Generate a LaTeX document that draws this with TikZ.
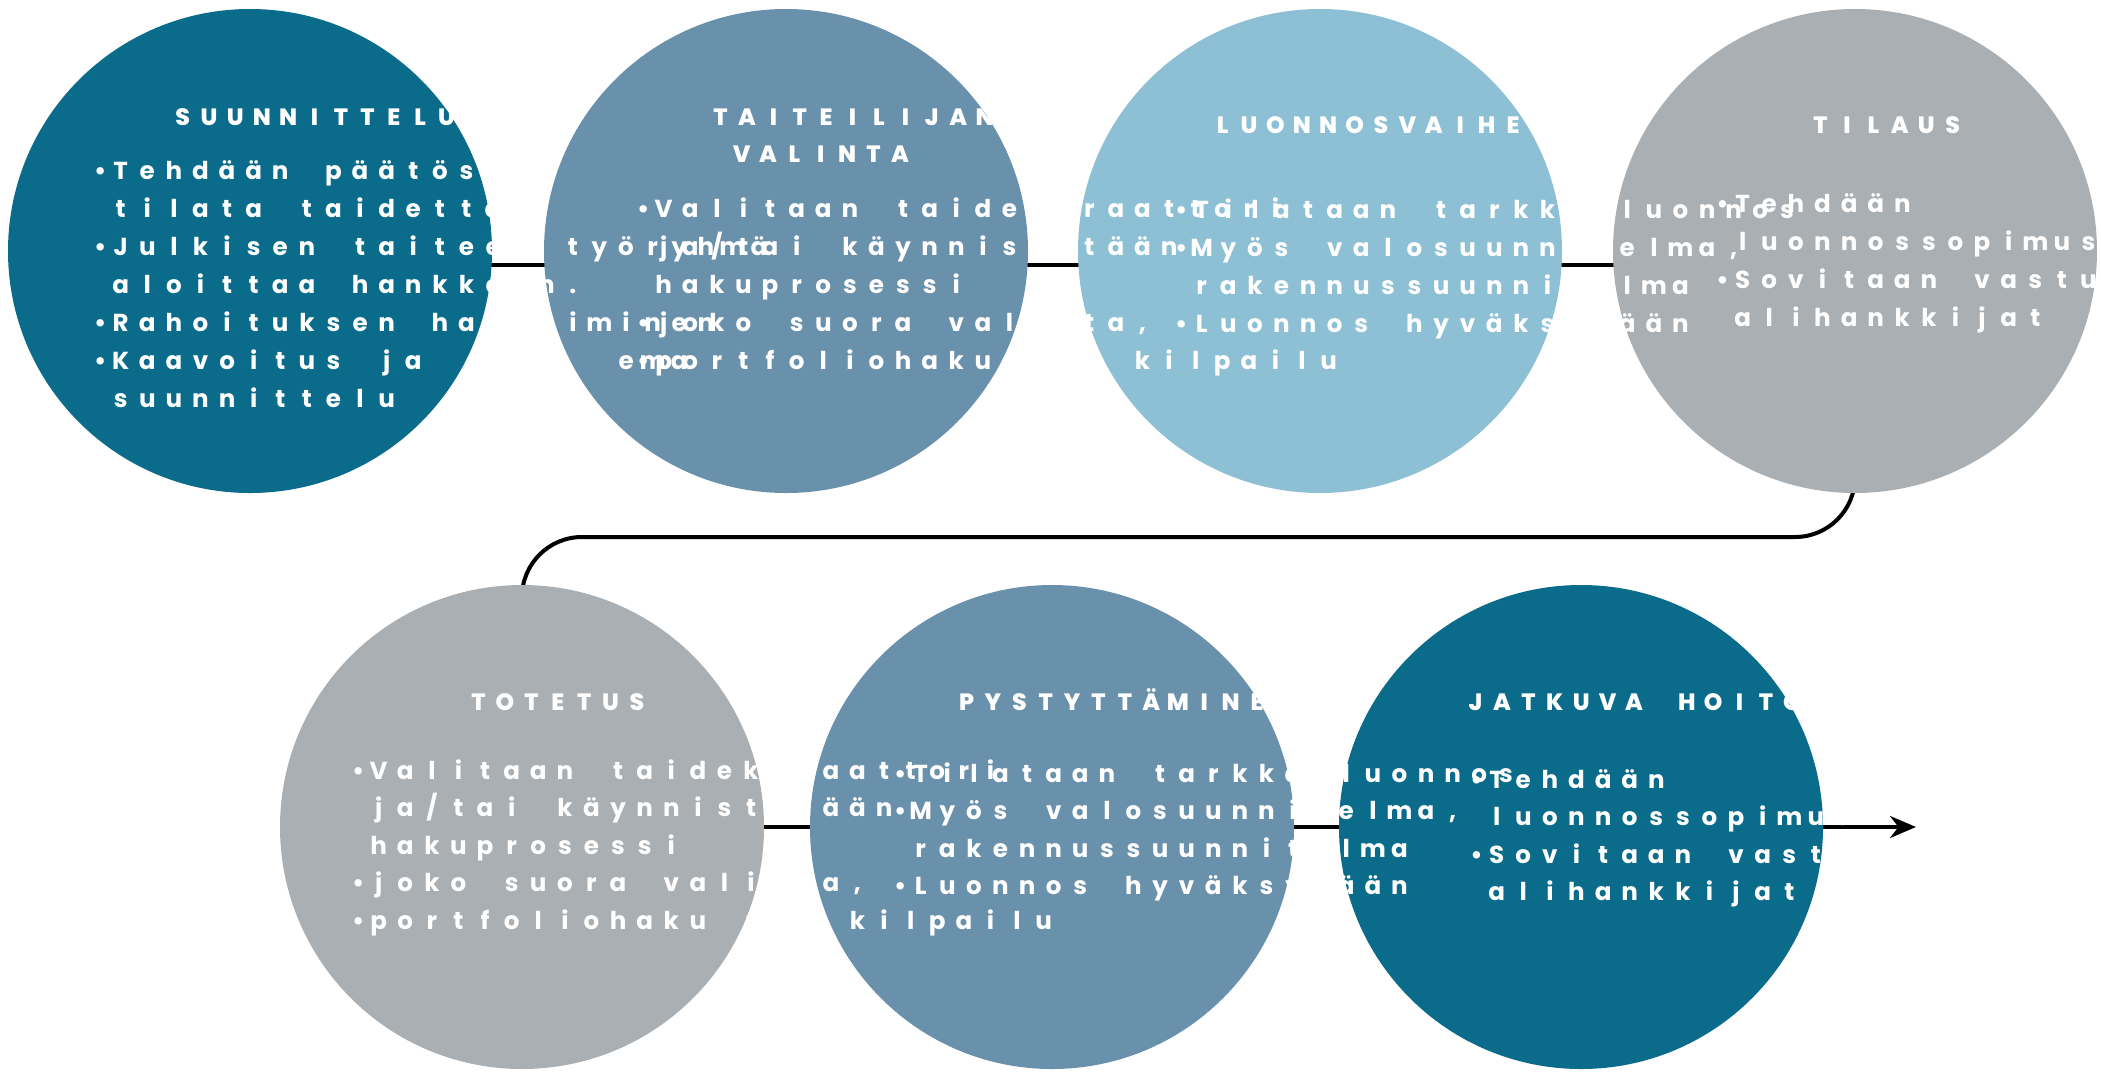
\documentclass[tikz,border=0pt]{standalone}
\usepackage{fontspec}
\setmainfont{Poppins}
\newfontfamily\bodyfam{Poppins Bold}
\newfontfamily\headfam{Poppins ExtraBold}
\usepackage{tikz}
\usetikzlibrary{arrows.meta,backgrounds}
\definecolor{phaseteal}{HTML}{0B6B8A}
\definecolor{phaseslate}{HTML}{6A91AC}
\definecolor{phasesky}{HTML}{8DC0D5}
\definecolor{phasegray}{HTML}{AAAFB3}

% every glyph in a box of fixed width, bullet hangs left, | is an empty slot
\ExplSyntaxOn
\dim_new:N \l_pitch_dim
\str_new:N \l_spaced_str
\NewDocumentCommand\spaced{m m}{
  \dim_set:Nn \l_pitch_dim {#1}
  \str_set:Nx \l_spaced_str {#2}
  \str_map_inline:Nn \l_spaced_str
    { \str_case:nnF {##1}
        { {•} { \llap{\makebox[7pt][c]{##1}} }
          {|} { \hspace*{\l_pitch_dim} } }
        { \makebox[\l_pitch_dim][c]{##1} } }
}
\ExplSyntaxOff

\newcommand\plantext{{•Tehdään päätös},{tilata taidetta},{•Julkisen taiteen työryhmä},{aloittaa hankkeen.},{•Rahoituksen hankkiminen},{•Kaavoitus ja ||||||ema},{suunnittelu}}
\newcommand\picktext{{•Valitaan taidekuraattori},{ja/tai käynnistetään},{hakuprosessi},{•joko suora valinta,},{•portfoliohaku tai kilpailu}}
\newcommand\drafttext{{•Tilataan tarkka luonnos},{•Myös valosuunnitelma,},{rakennussuunnitelma},{•Luonnos hyväksytään}}
\newcommand\ordertext{{•Tehdään},{luonnossopimus},{•Sovitaan vastuut ja},{alihankkijat}}

\begin{document}
\begin{tikzpicture}[
    x=0.5pt, y=-0.5pt,
    phase/.style={circle, minimum size=242pt, inner sep=0pt, draw=none},
    hd/.style={anchor=base west, inner sep=0pt, text=white, font=\headfam\fontsize{11.8pt}{14pt}\selectfont},
    tx/.style={anchor=base west, inner sep=0pt, text=white, font=\bodyfam\fontsize{12.3pt}{14pt}\selectfont},
    link/.style={line width=2pt, black}
]
\useasboundingbox (0,0) rectangle (2101,1073);

% circles
\node[phase, fill=phaseteal]  (c1) at (250,251) {};
\node[phase, fill=phaseslate] (c2) at (786,251) {};
\node[phase, fill=phasesky]   (c3) at (1320,251) {};
\node[phase, fill=phasegray]  (c4) at (1855,251) {};
\node[phase, fill=phasegray]  (c5) at (522,827) {};
\node[phase, fill=phaseslate] (c6) at (1052,827) {};
\node[phase, fill=phaseteal]  (c7) at (1581,827) {};

% connectors behind the circles
\coordinate (turn) at (0,537);
\coordinate (end) at (1916,827);
\begin{scope}[on background layer]
\draw[link] ([yshift=-7pt]c1.center) -- ([yshift=-7pt]c2.center);
\draw[link] ([yshift=-7pt]c2.center) -- ([yshift=-7pt]c3.center);
\draw[link] ([yshift=-7pt]c3.center) -- ([yshift=-7pt]c4.center);
\draw[link, rounded corners=30pt] (c4.center) -- (c4.center |- turn) -- (c5.center |- turn) -- (c5.center);
\draw[link] (c5) -- (c6);
\draw[link] (c6) -- (c7);
\draw[link, -{Stealth[length=13pt, width=11pt]}] (c7.center) -- (end);
\end{scope}

% titles
\node[hd] (h1) at (169,125) {\spaced{13.2pt}{SUUNNITTELU}};
\node[hd] (h2) at (707,125) {\spaced{13.2pt}{TAITEILIJAN}};
\node[hd] (h2b) at (728,162) {\spaced{13.2pt}{VALINTA}};
\node[hd] (h3) at (1209,133) {\spaced{13.2pt}{LUONNOSVAIHE}};
\node[hd] (h4) at (1807,133) {\spaced{13.2pt}{TILAUS}};
\node[hd] (h5) at (465,710) {\spaced{13.2pt}{TOTETUS}};
\node[hd] (h6) at (953,710) {\spaced{13.2pt}{PYSTYTTÄMINEN}};
\node[hd] (h7) at (1462,710) {\spaced{13.2pt}{JATKUVA HOITO}};

% body lines
\foreach \t [count=\i] in \plantext
  \node[tx] (s1l\i) at (107,{179+38*(\i-1)}) {\spaced{13.3pt}{\t}};
\foreach \t [count=\i] in \picktext
  \node[tx] (s2l\i) at (650,{217+38*(\i-1)}) {\spaced{13.3pt}{\t}};
\foreach \t [count=\i] in \drafttext
  \node[tx] (s3l\i) at (1188,{218+38*(\i-1)}) {\spaced{13.3pt}{\t}};
\foreach \t [count=\i] in \ordertext
  \node[tx] (s4l\i) at (1729,{212+38*(\i-1)}) {\spaced{13.3pt}{\t}};
\foreach \t [count=\i] in \picktext
  \node[tx] (s5l\i) at (365,{779+37.5*(\i-1)}) {\spaced{13.3pt}{\t}};
\foreach \t [count=\i] in \drafttext
  \node[tx] (s6l\i) at (907,{782+37.5*(\i-1)}) {\spaced{13.3pt}{\t}};
\foreach \t [count=\i] in \ordertext
  \node[tx] (s7l\i) at (1483,{788+37.5*(\i-1)}) {\spaced{13.3pt}{\t}};
\end{tikzpicture}
\end{document}
